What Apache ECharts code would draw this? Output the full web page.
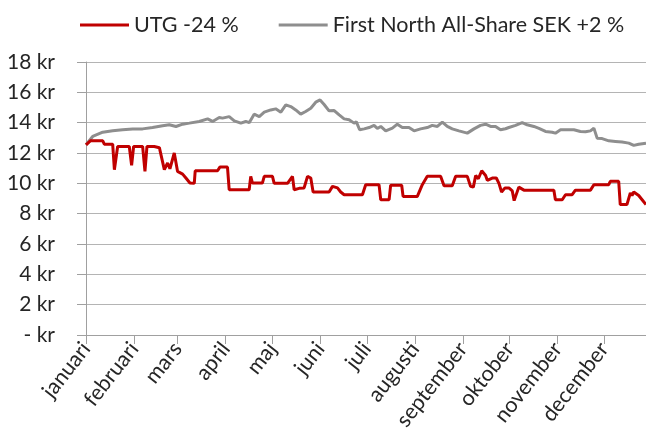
<!DOCTYPE html>
<html>
<head>
<meta charset="utf-8">
<script src="https://cdn.jsdelivr.net/npm/echarts@6/dist/echarts.min.js"></script>
<style>
html,body{margin:0;padding:0;background:#fff;}
#c{width:646px;height:446px;}
</style>
</head>
<body>
<div id="c"></div>
<script>
// Month labels and month-start day offsets (day of year, 0 = 1 Jan)
const monthLabels = ['januari','februari','mars','april','maj','juni','juli','augusti','september','oktober','november','december'];
const monthStarts = [0,31,59,90,120,151,181,212,243,273,304,334];
const yTicks = [0,2,4,6,8,10,12,14,16,18];

const seriesNames = ['UTG -24 %', 'First North All-Share SEK +2 %'];

// UTG (red) — day of year / price in kr
const utgDays = [0,2.8,10.8,11.8,17.2,18.3,20.4,27.9,29.4,30.7,36.5,38,39.3,44,44.9,47.3,50.5,52.6,54.1,55.2,56.9,59,62.3,64.4,67,69.8,70.4,84.8,86.3,91.2,92.3,105.2,106.2,107.3,113.7,114.9,120.2,121.3,129.9,133.1,134.2,137.4,140.6,142.8,144.9,146.4,156.7,158.9,162.1,164.2,166.4,178.2,180.3,188.9,190,195.4,196.4,203.5,204.4,213.6,216.8,220,228.6,230.8,236.1,238.3,245.8,247.9,249.7,251.2,252.9,255.1,257.6,258.7,261.9,264.5,266.2,267.9,270.1,272.6,274.8,276,279,280.1,282.3,301.6,302.6,307,309.1,313.4,315.5,325.2,327.4,337,338,343.4,344.4,348.7,350.9,352,353.1,356.3,358.5,361];
const utgValues = [12.54,12.8,12.8,12.58,12.58,10.9,12.43,12.43,11.18,12.43,12.43,10.79,12.43,12.43,12.35,12.35,10.9,11.34,10.96,11.0,12.0,10.79,10.61,10.35,10.02,10.0,10.83,10.83,11.07,11.07,9.58,9.58,10.46,10.02,10.02,10.46,10.46,10.0,10.0,10.46,9.58,9.67,9.7,10.46,10.35,9.43,9.43,9.8,9.7,9.43,9.25,9.25,9.91,9.91,8.92,8.92,9.88,9.88,9.14,9.14,9.91,10.46,10.46,9.84,9.84,10.46,10.46,9.8,9.75,10.52,10.3,10.83,10.52,10.2,10.35,10.35,10.0,9.43,9.7,9.7,9.5,8.86,9.75,9.88,9.55,9.55,8.92,8.92,9.25,9.25,9.55,9.55,9.91,9.91,10.13,10.13,8.6,8.6,9.36,9.2,9.43,9.2,8.92,8.6];

// First North All-Share SEK (gray)
const fnDays = [0,4.3,10.8,17.2,23.6,30.1,36.5,42.9,49.4,53.7,58,62.3,66.6,73,78.4,81.6,85.9,88,92.3,95.6,99.8,103,105.2,108.4,111.7,114.9,119.1,122.3,125.6,128.8,132,135.2,138.4,141.6,144.9,148.1,150.9,153.5,156.7,160,163.2,166.4,169.6,172.8,174.3,176.4,179.3,182.5,185.7,187.8,190,193.2,197.5,200.7,203.9,208.2,211.5,215.7,220,223.2,226.5,229.7,232.9,236.1,240.4,245.8,250.1,254.3,257.6,260.8,264,267.2,270.4,272.6,276.9,281.2,284.4,288.7,292,296.2,300.5,302.6,305.9,310.2,314.5,318.7,322,325.2,327.4,329.5,332.7,337,341.3,345.6,349.9,353.1,356.3,361];
const fnValues = [12.54,13.09,13.37,13.46,13.53,13.59,13.59,13.68,13.8,13.86,13.75,13.9,13.97,14.08,14.25,14.08,14.34,14.3,14.4,14.12,13.97,14.08,14.0,14.56,14.4,14.69,14.84,14.91,14.69,15.17,15.06,14.84,14.56,14.74,14.95,15.35,15.5,15.2,14.78,14.8,14.51,14.25,14.19,13.97,14.05,13.53,13.59,13.68,13.82,13.62,13.75,13.46,13.64,13.9,13.68,13.68,13.46,13.59,13.68,13.82,13.75,14.03,13.75,13.59,13.46,13.31,13.59,13.82,13.9,13.75,13.75,13.53,13.6,13.68,13.82,14.01,13.86,13.75,13.62,13.42,13.37,13.31,13.53,13.53,13.53,13.42,13.4,13.46,13.64,12.98,12.95,12.8,12.76,12.72,12.65,12.5,12.58,12.65];

const pair = (xs, ys) => xs.map((x, i) => [x, ys[i]]);

const FONT = 'Lato';
const TXT = '#262626';

const chart = echarts.init(document.getElementById('c'), null, {renderer: 'canvas'});
chart.setOption({
  animation: false,
  textStyle: {fontFamily: FONT},
  legend: {
    left: 75, top: 9,
    icon: 'rect', itemWidth: 49, itemHeight: 3, itemGap: 40,
    textStyle: {fontFamily: FONT, fontSize: 21.5, color: TXT},
    data: seriesNames
  },
  grid: {left: 86, right: 0, top: 62, bottom: 111, containLabel: false},
  xAxis: {
    type: 'value', min: 0, max: 361,
    axisLine: {show: true, onZero: false, lineStyle: {color: '#a0a0a0', width: 1}},
    axisTick: {show: true, length: 9, customValues: monthStarts, lineStyle: {color: '#a0a0a0'}},
    axisLabel: {
      customValues: monthStarts, rotate: 52, margin: 10,
      fontFamily: FONT, fontSize: 21.5, color: TXT,
      formatter: v => monthLabels[monthStarts.indexOf(Math.round(v))] || ''
    },
    splitLine: {show: false}
  },
  yAxis: {
    type: 'value', min: 0, max: 18, interval: 2,
    axisLine: {show: true, lineStyle: {color: '#a0a0a0', width: 1}},
    axisTick: {show: true, length: 9, lineStyle: {color: '#a0a0a0'}},
    axisLabel: {
      margin: 31, fontFamily: FONT, fontSize: 21, color: TXT,
      formatter: v => v === 0 ? '- kr' : v + ' kr'
    },
    splitLine: {show: true, lineStyle: {color: '#b4b4b4', width: 1}}
  },
  series: [
    {
      name: seriesNames[0], type: 'line', showSymbol: false, symbol: 'none',
      data: pair(utgDays, utgValues), z: 3,
      itemStyle: {color: '#c00000'},
      lineStyle: {color: '#c00000', width: 3}
    },
    {
      name: seriesNames[1], type: 'line', showSymbol: false, symbol: 'none',
      data: pair(fnDays, fnValues), z: 2,
      itemStyle: {color: '#8e8e8e'},
      lineStyle: {color: '#8e8e8e', width: 3}
    }
  ]
});
</script>
</body>
</html>
